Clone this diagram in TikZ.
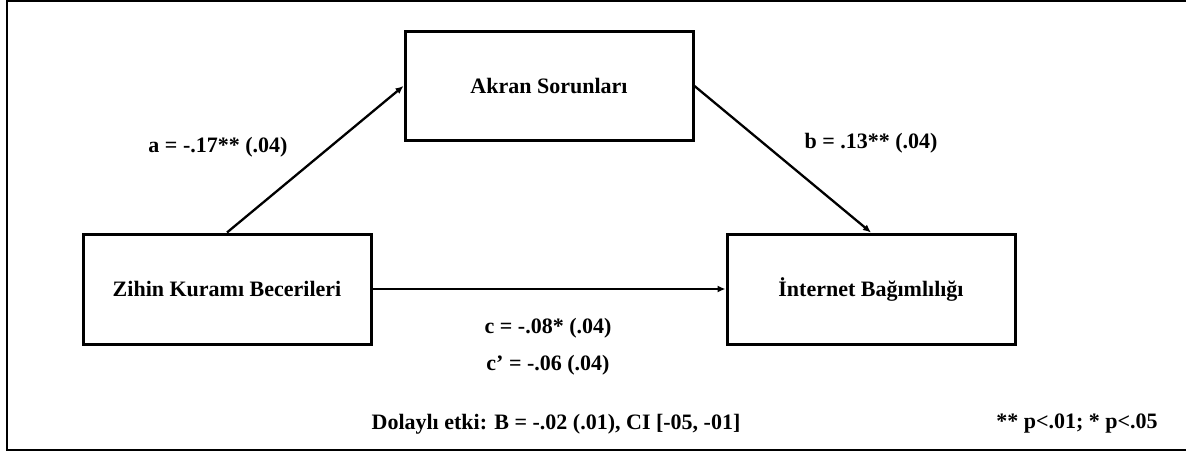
\documentclass[tikz,border=0pt]{standalone}
\usepackage{fontspec}
\setmainfont{Liberation Serif}
\usetikzlibrary{arrows.meta}
\begin{document}
\begin{tikzpicture}[x=1pt,y=-1pt]
\tikzstyle{every node}+=[font=\fontsize{22}{26}\selectfont\bfseries]
\tikzstyle{varbox}=[draw=black, line width=3pt, minimum width=288pt, minimum height=108pt, inner sep=0pt]
\tikzstyle{path}=[black, line width=2.3pt, -{Latex[length=8pt,width=7pt]}]
\useasboundingbox (0,0) rectangle (1186,452);
\draw [black, line width=2.2pt] (7,1) rectangle (1195,450);
\node [varbox] (akran) at (549,86) {Akran Sorunları};
\node [varbox, minimum height=110pt] (zihin) at (227,289) {Zihin Kuramı Becerileri};
\node [varbox, minimum height=110pt] (internet) at (871,289) {İnternet Bağımlılığı};
\draw [path] (zihin.north) -- (akran.west);
\draw [path] (akran.east) -- (internet.north);
\draw [path] (zihin.east) -- (internet.west);
\node (alabel) at (218,147) {a = -.17** (.04)};
\node (blabel) at (871,143) {b = .13** (.04)};
\node (clabel) at (548,328) {c = -.08* (.04)};
\node (cplabel) at (548,365) {c’ = -.06 (.04)};
\node (indirect) at (556,424) {Dolaylı etki: B = -.02 (.01), CI [-05, -01]};
\node (pnote) at (1077,424) {** p<.01; * p<.05};
\end{tikzpicture}
\end{document}
